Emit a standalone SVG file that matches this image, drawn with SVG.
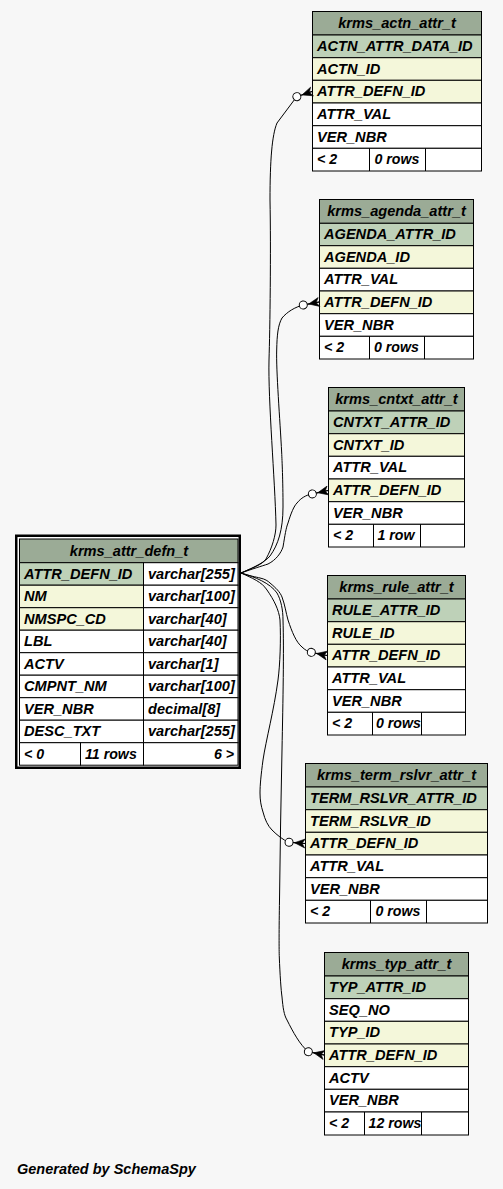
<svg xmlns="http://www.w3.org/2000/svg" width="503" height="1189" viewBox="0 0 503 1189">
<style>
text{font-family:"Liberation Sans",Arial,Helvetica,sans-serif;font-size:14.6px;font-weight:bold;font-style:italic;fill:#000}
.c{text-anchor:middle}
.r{text-anchor:end}
.f{font-size:14.2px}
.hd{fill:#9bab96;stroke:#000;stroke-width:1}
.pk{fill:#bed1b8;stroke:#000;stroke-width:1}
.fk{fill:#f4f7da;stroke:#000;stroke-width:1}
.pl{fill:#fff;stroke:#000;stroke-width:1}
.ln{stroke:#000;stroke-width:1}
.e{fill:none;stroke:#000;stroke-width:1;marker-end:url(#crowodot)}
</style>
<defs>
<marker id="crowodot" markerUnits="userSpaceOnUse" markerWidth="24" markerHeight="14" viewBox="0 0 24 14" refX="20" refY="7" orient="auto" overflow="visible">
<line x1="8" y1="7" x2="20" y2="7" stroke="#000" stroke-width="1"/>
<polygon points="9.5,7 20,2.5 17,7 20,11.5" fill="#000" stroke="#000" stroke-width="0.6"/>
<circle cx="4" cy="7" r="4" fill="#fff" stroke="#000" stroke-width="1"/>
</marker>
</defs>
<rect width="503" height="1189" fill="#f7f7f7"/>

<g id="krms_attr_defn_t">
<rect x="16.25" y="535.75" width="223.5" height="232" fill="#fff" stroke="#000" stroke-width="2.5"/>
<rect x="19.5" y="539" width="218.5" height="23.7" class="hd"/>
<rect x="19.5" y="562.7" width="124" height="22.5" class="pk"/>
<rect x="143.5" y="562.7" width="94.5" height="22.5" class="pl"/>
<rect x="19.5" y="585.2" width="124" height="22.5" class="fk"/>
<rect x="143.5" y="585.2" width="94.5" height="22.5" class="pl"/>
<rect x="19.5" y="607.7" width="124" height="22.5" class="fk"/>
<rect x="143.5" y="607.7" width="94.5" height="22.5" class="pl"/>
<rect x="19.5" y="630.2" width="124" height="22.5" class="pl"/>
<rect x="143.5" y="630.2" width="94.5" height="22.5" class="pl"/>
<rect x="19.5" y="652.7" width="124" height="22.5" class="pl"/>
<rect x="143.5" y="652.7" width="94.5" height="22.5" class="pl"/>
<rect x="19.5" y="675.2" width="124" height="22.5" class="pl"/>
<rect x="143.5" y="675.2" width="94.5" height="22.5" class="pl"/>
<rect x="19.5" y="697.7" width="124" height="22.5" class="pl"/>
<rect x="143.5" y="697.7" width="94.5" height="22.5" class="pl"/>
<rect x="19.5" y="720.2" width="124" height="22.5" class="pl"/>
<rect x="143.5" y="720.2" width="94.5" height="22.5" class="pl"/>
<rect x="19.5" y="742.7" width="61" height="22.5" class="pl"/>
<rect x="80.5" y="742.7" width="63" height="22.5" class="pl"/>
<rect x="143.5" y="742.7" width="94.5" height="22.5" class="pl"/>
<text x="129" y="556" class="c">krms_attr_defn_t</text>
<text x="24" y="578.7">ATTR_DEFN_ID</text><text x="148" y="578.7">varchar[255]</text>
<text x="24" y="601.2">NM</text><text x="148" y="601.2">varchar[100]</text>
<text x="24" y="623.7">NMSPC_CD</text><text x="148" y="623.7">varchar[40]</text>
<text x="24" y="646.2">LBL</text><text x="148" y="646.2">varchar[40]</text>
<text x="24" y="668.7">ACTV</text><text x="148" y="668.7">varchar[1]</text>
<text x="24" y="691.2">CMPNT_NM</text><text x="148" y="691.2">varchar[100]</text>
<text x="24" y="713.7">VER_NBR</text><text x="148" y="713.7">decimal[8]</text>
<text x="24" y="736.2">DESC_TXT</text><text x="148" y="736.2">varchar[255]</text>
<text x="24" y="758.7" class="f">&lt; 0</text><text x="85" y="758.7" class="f">11 rows</text><text x="234" y="758.7" class="r f">6 &gt;</text>
</g>

<g id="krms_actn_attr_t">
<rect x="312.5" y="11.5" width="169" height="23.5" class="hd"/>
<rect x="312.5" y="35" width="169" height="22.7" class="pk"/>
<rect x="312.5" y="57.7" width="169" height="22.6" class="fk"/>
<rect x="312.5" y="80.3" width="169" height="22.7" class="fk"/>
<rect x="312.5" y="103" width="169" height="22.7" class="pl"/>
<rect x="312.5" y="125.7" width="169" height="22.6" class="pl"/>
<rect x="312.5" y="148.3" width="169" height="22.7" class="pl"/>
<line x1="369.5" y1="148.3" x2="369.5" y2="171" class="ln"/>
<line x1="425.5" y1="148.3" x2="425.5" y2="171" class="ln"/>
<text x="397" y="27.5" class="c">krms_actn_attr_t</text>
<text x="317" y="51">ACTN_ATTR_DATA_ID</text>
<text x="317" y="73.7">ACTN_ID</text>
<text x="317" y="96.3">ATTR_DEFN_ID</text>
<text x="317" y="119">ATTR_VAL</text>
<text x="317" y="141.7">VER_NBR</text>
<text x="317" y="164.3" class="f">&lt; 2</text><text x="374.5" y="164.3" class="f">0 rows</text>
</g>

<g id="krms_agenda_attr_t">
<rect x="319.5" y="199.5" width="154" height="23.8" class="hd"/>
<rect x="319.5" y="223.3" width="154" height="22.4" class="pk"/>
<rect x="319.5" y="245.7" width="154" height="22.6" class="fk"/>
<rect x="319.5" y="268.3" width="154" height="22.7" class="pl"/>
<rect x="319.5" y="291" width="154" height="22.7" class="fk"/>
<rect x="319.5" y="313.7" width="154" height="22.6" class="pl"/>
<rect x="319.5" y="336.3" width="154" height="22.7" class="pl"/>
<line x1="369.5" y1="336.3" x2="369.5" y2="359" class="ln"/>
<line x1="424.5" y1="336.3" x2="424.5" y2="359" class="ln"/>
<text x="396.5" y="215.5" class="c">krms_agenda_attr_t</text>
<text x="324" y="239">AGENDA_ATTR_ID</text>
<text x="324" y="261.7">AGENDA_ID</text>
<text x="324" y="284.3">ATTR_VAL</text>
<text x="324" y="307">ATTR_DEFN_ID</text>
<text x="324" y="329.7">VER_NBR</text>
<text x="324" y="352.3" class="f">&lt; 2</text><text x="374" y="352.3" class="f">0 rows</text>
</g>

<g id="krms_cntxt_attr_t">
<rect x="328.5" y="387.5" width="136" height="23.5" class="hd"/>
<rect x="328.5" y="411" width="136" height="22.7" class="pk"/>
<rect x="328.5" y="433.7" width="136" height="22.6" class="fk"/>
<rect x="328.5" y="456.3" width="136" height="22.7" class="pl"/>
<rect x="328.5" y="479" width="136" height="22.7" class="fk"/>
<rect x="328.5" y="501.7" width="136" height="22.6" class="pl"/>
<rect x="328.5" y="524.3" width="136" height="22.7" class="pl"/>
<line x1="373.5" y1="524.3" x2="373.5" y2="547" class="ln"/>
<line x1="420.5" y1="524.3" x2="420.5" y2="547" class="ln"/>
<text x="396.5" y="403.5" class="c">krms_cntxt_attr_t</text>
<text x="333" y="427">CNTXT_ATTR_ID</text>
<text x="333" y="449.7">CNTXT_ID</text>
<text x="333" y="472.3">ATTR_VAL</text>
<text x="333" y="495">ATTR_DEFN_ID</text>
<text x="333" y="517.7">VER_NBR</text>
<text x="333" y="540.3" class="f">&lt; 2</text><text x="377.5" y="540.3" class="f">1 row</text>
</g>

<g id="krms_rule_attr_t">
<rect x="327.5" y="575.5" width="138" height="23.5" class="hd"/>
<rect x="327.5" y="599" width="138" height="22.7" class="pk"/>
<rect x="327.5" y="621.7" width="138" height="22.6" class="fk"/>
<rect x="327.5" y="644.3" width="138" height="22.7" class="fk"/>
<rect x="327.5" y="667" width="138" height="22.7" class="pl"/>
<rect x="327.5" y="689.7" width="138" height="22.6" class="pl"/>
<rect x="327.5" y="712.3" width="138" height="22.7" class="pl"/>
<line x1="372.5" y1="712.3" x2="372.5" y2="735" class="ln"/>
<line x1="421.5" y1="712.3" x2="421.5" y2="735" class="ln"/>
<text x="396.5" y="591.5" class="c">krms_rule_attr_t</text>
<text x="332" y="615">RULE_ATTR_ID</text>
<text x="332" y="637.7">RULE_ID</text>
<text x="332" y="660.3">ATTR_DEFN_ID</text>
<text x="332" y="683">ATTR_VAL</text>
<text x="332" y="705.7">VER_NBR</text>
<text x="332" y="728.3" class="f">&lt; 2</text><text x="376" y="728.3" class="f">0 rows</text>
</g>

<g id="krms_term_rslvr_attr_t">
<rect x="305.5" y="763.5" width="182" height="23.5" class="hd"/>
<rect x="305.5" y="787" width="182" height="22.7" class="pk"/>
<rect x="305.5" y="809.7" width="182" height="22.6" class="fk"/>
<rect x="305.5" y="832.3" width="182" height="22.7" class="fk"/>
<rect x="305.5" y="855" width="182" height="22.7" class="pl"/>
<rect x="305.5" y="877.7" width="182" height="22.6" class="pl"/>
<rect x="305.5" y="900.3" width="182" height="22.7" class="pl"/>
<line x1="370.5" y1="900.3" x2="370.5" y2="923" class="ln"/>
<line x1="426.5" y1="900.3" x2="426.5" y2="923" class="ln"/>
<text x="396.5" y="779.5" class="c">krms_term_rslvr_attr_t</text>
<text x="310" y="803">TERM_RSLVR_ATTR_ID</text>
<text x="310" y="825.7">TERM_RSLVR_ID</text>
<text x="310" y="848.3">ATTR_DEFN_ID</text>
<text x="310" y="871">ATTR_VAL</text>
<text x="310" y="893.7">VER_NBR</text>
<text x="310" y="916.3" class="f">&lt; 2</text><text x="375.5" y="916.3" class="f">0 rows</text>
</g>

<g id="krms_typ_attr_t">
<rect x="324.5" y="952.5" width="144" height="23.5" class="hd"/>
<rect x="324.5" y="976" width="144" height="22.7" class="pk"/>
<rect x="324.5" y="998.7" width="144" height="22.6" class="pl"/>
<rect x="324.5" y="1021.3" width="144" height="22.7" class="fk"/>
<rect x="324.5" y="1044" width="144" height="22.7" class="fk"/>
<rect x="324.5" y="1066.7" width="144" height="22.6" class="pl"/>
<rect x="324.5" y="1089.3" width="144" height="22.7" class="pl"/>
<rect x="324.5" y="1112" width="144" height="23" class="pl"/>
<line x1="364.5" y1="1112" x2="364.5" y2="1135" class="ln"/>
<line x1="421.5" y1="1112" x2="421.5" y2="1135" class="ln"/>
<text x="396.5" y="968.5" class="c">krms_typ_attr_t</text>
<text x="329" y="992">TYP_ATTR_ID</text>
<text x="329" y="1014.7">SEQ_NO</text>
<text x="329" y="1037.3">TYP_ID</text>
<text x="329" y="1060">ATTR_DEFN_ID</text>
<text x="329" y="1082.7">ACTV</text>
<text x="329" y="1105.3">VER_NBR</text>
<text x="329" y="1128.3" class="f">&lt; 2</text><text x="368.5" y="1128.3" class="f">12 rows</text>
</g>

<g id="connectors">
<path class="e" d="M241,573 C252,568 262,565 266,559 C272,548 276,535 276,525 C275,480 268,400 269,360 C270,330 271,250 270,200 C270,160 272,135 277,123 L296.7,96.7 L312,91.5"/>
<path class="e" d="M241,573 C255,567 265,562 270,556 C278,545 283,530 283,507 C283,480 282,460 281.7,453 C280,420 276,370 276.7,350 C277,335 278,325 282,318 C287,312 295,307 303.3,305 L319,302"/>
<path class="e" d="M241,573 C252,569 262,566 268,564 C276,560 281,553 283,547 C285,535 286,528 288,523 C291,513 294,506 297,503 C301,498 306,495 312,494 L328,490.5"/>
<path class="e" d="M241,573 C250,576 256,577 260,578 C265,579 268,581 270,583 C276,588 280,592 282,597 C285,605 286,613 288,620 C292,632 296,642 302,647 C305,650 308,651.5 311,652.3 L327,655.5"/>
<path class="e" d="M241,573 C252,578 262,582 267,590 C274,600 279,610 280,620 C281,640 280,665 278,680 C274,710 266,740 263,760 C261,775 260,785 260,793 C260,800 261,806 263,812 C265,820 268,826 272,830 C277,835 283,840 289,842.3 L305,843.5"/>
<path class="e" d="M241,573 C255,577 270,583 277,593 C281,600 283,610 283,620 C284,650 283,700 282,750 C281,800 280,850 279.5,900 C279,930 279,950 279.3,957 C280,975 281,990 282,997 C283,1008 284,1015 287,1020 C293,1032 300,1045 308.3,1051.7 L324,1055"/>
</g>

<text x="17" y="1174" style="font-size:14.5px">Generated by SchemaSpy</text>
</svg>
